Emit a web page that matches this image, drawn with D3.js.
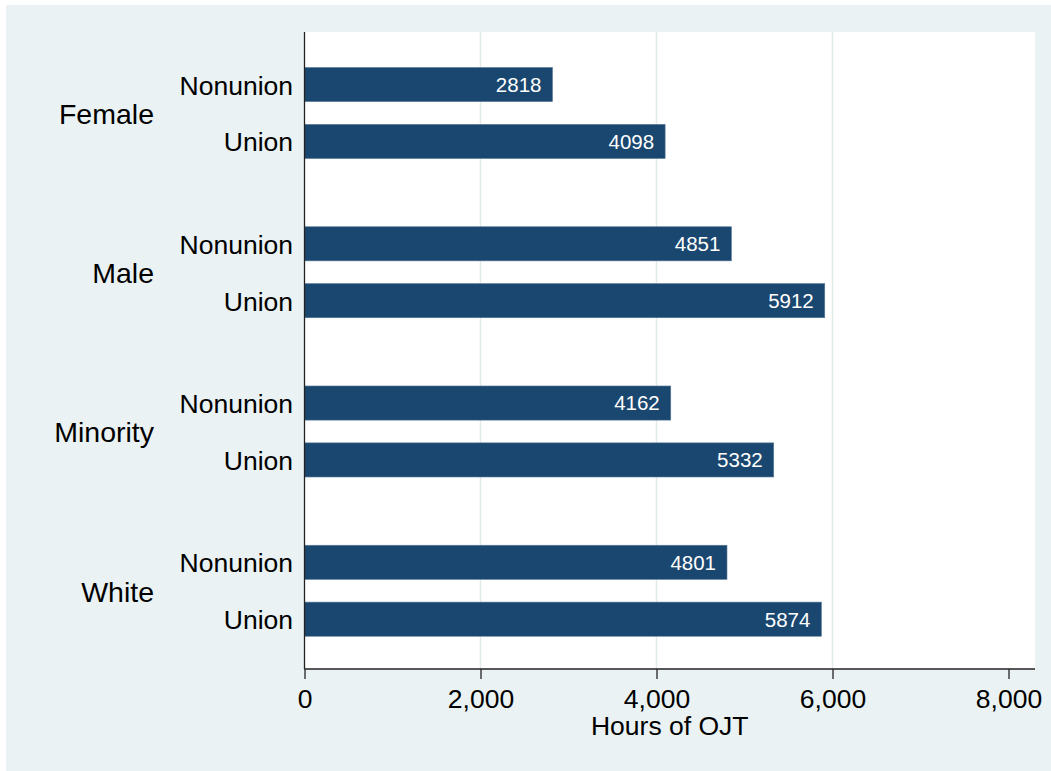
<!DOCTYPE html>
<html>
<head>
<meta charset="utf-8">
<script src="https://cdn.jsdelivr.net/npm/d3@7"></script>
<style>
  body { margin: 0; background: #ffffff; }
  text { font-family: "Liberation Sans", Arial, Helvetica, sans-serif; }
</style>
</head>
<body>
<div id="chart"></div>
<script>
// data
var groups = ["Female", "Male", "Minority", "White"];
var subgroups = ["Nonunion", "Union"];
var hours = [
    [2818, 4098],
    [4851, 5912],
    [4162, 5332],
    [4801, 5874]
];
var xTicks = [0, 2000, 4000, 6000, 8000];
var gridTicks = [2000, 4000, 6000];

var W = 1051, H = 771;
var plotLeft = 304.5, plotRight = 1035, plotTop = 32, plotBottom = 669;

var svg = d3.select("#chart")
    .append("svg")
    .attr("width", W)
    .attr("height", H);

// outer graph region
svg.append("rect")
    .attr("x", 6).attr("y", 5)
    .attr("width", W - 6).attr("height", H - 5)
    .attr("fill", "#eaf2f3");

// plot region
svg.append("rect")
    .attr("x", plotLeft).attr("y", plotTop)
    .attr("width", plotRight - plotLeft).attr("height", plotBottom - plotTop)
    .attr("fill", "#ffffff");

var x = d3.scaleLinear().domain([0, 8000]).range([plotLeft, plotLeft + 8000 * 0.088]);

var y0 = d3.scaleBand().domain(groups).range([plotTop, plotBottom]);
var y1 = d3.scaleBand().domain(subgroups)
    .range([0, y0.bandwidth()])
    .paddingInner(0.4)
    .paddingOuter(0.6)
    .align(0.52);

// grid lines
svg.selectAll(".grid")
    .data(gridTicks)
    .enter().append("line")
    .attr("class", "grid")
    .attr("x1", function(d) { return x(d); })
    .attr("x2", function(d) { return x(d); })
    .attr("y1", plotTop)
    .attr("y2", plotBottom)
    .attr("stroke", "#e1eaec")
    .attr("stroke-width", 1.5);

var rows = [];
for (var i = 0; i < groups.length; ++i) {
    for (var j = 0; j < subgroups.length; ++j) {
        rows.push({ group: groups[i], sub: subgroups[j], value: hours[i][j] });
    }
}

// bars
svg.selectAll(".bar")
    .data(rows)
    .enter().append("rect")
    .attr("class", "bar")
    .attr("x", x(0))
    .attr("y", function(d) { return y0(d.group) + y1(d.sub); })
    .attr("width", function(d) { return x(d.value) - x(0); })
    .attr("height", y1.bandwidth())
    .attr("fill", "#1a476f")
    .attr("stroke", "#5a7a96")
    .attr("stroke-width", 0.6);

// value labels inside bars
svg.selectAll(".val")
    .data(rows)
    .enter().append("text")
    .attr("class", "val")
    .attr("x", function(d) { return x(d.value) - 11; })
    .attr("y", function(d) { return y0(d.group) + y1(d.sub) + y1.bandwidth() / 2; })
    .attr("dy", "0.36em")
    .attr("text-anchor", "end")
    .style("font-size", "20.5px")
    .style("fill", "white")
    .text(function(d) { return d.value; });

// subgroup labels
svg.selectAll(".sublab")
    .data(rows)
    .enter().append("text")
    .attr("class", "sublab")
    .attr("x", 293)
    .attr("y", function(d) { return y0(d.group) + y1(d.sub) + y1.bandwidth() / 2; })
    .attr("dy", "0.38em")
    .attr("text-anchor", "end")
    .style("font-size", "26.5px")
    .style("fill", "black")
    .text(function(d) { return d.sub; });

// group labels
svg.selectAll(".grplab")
    .data(groups)
    .enter().append("text")
    .attr("class", "grplab")
    .attr("x", 154)
    .attr("y", function(d) { return y0(d) + (y1("Nonunion") + y1("Union") + y1.bandwidth()) / 2; })
    .attr("dy", "0.38em")
    .attr("text-anchor", "end")
    .style("font-size", "28.5px")
    .style("fill", "black")
    .text(function(d) { return d; });

// axes
var xAxis = d3.axisBottom(x)
    .tickValues(xTicks)
    .tickSize(10)
    .tickPadding(10)
    .tickFormat(d3.format(","));

var gx = svg.append("g")
    .attr("transform", "translate(0," + plotBottom + ")")
    .call(xAxis);
gx.select(".domain").remove();
gx.selectAll(".tick line").attr("stroke", "#222").attr("stroke-width", 1.3);
gx.selectAll(".tick text")
    .style("font-size", "26.5px")
    .style("font-family", "'Liberation Sans', Arial, sans-serif")
    .attr("fill", "black");

svg.append("line")
    .attr("x1", plotLeft).attr("x2", plotRight)
    .attr("y1", plotBottom).attr("y2", plotBottom)
    .attr("stroke", "#222").attr("stroke-width", 1.3);

svg.append("line")
    .attr("x1", plotLeft).attr("x2", plotLeft)
    .attr("y1", plotTop).attr("y2", plotBottom)
    .attr("stroke", "#222").attr("stroke-width", 1.3);

svg.append("text")
    .attr("x", (plotLeft + plotRight) / 2)
    .attr("y", 735)
    .attr("text-anchor", "middle")
    .style("font-size", "26.5px")
    .style("fill", "black")
    .text("Hours of OJT");
</script>
</body>
</html>
